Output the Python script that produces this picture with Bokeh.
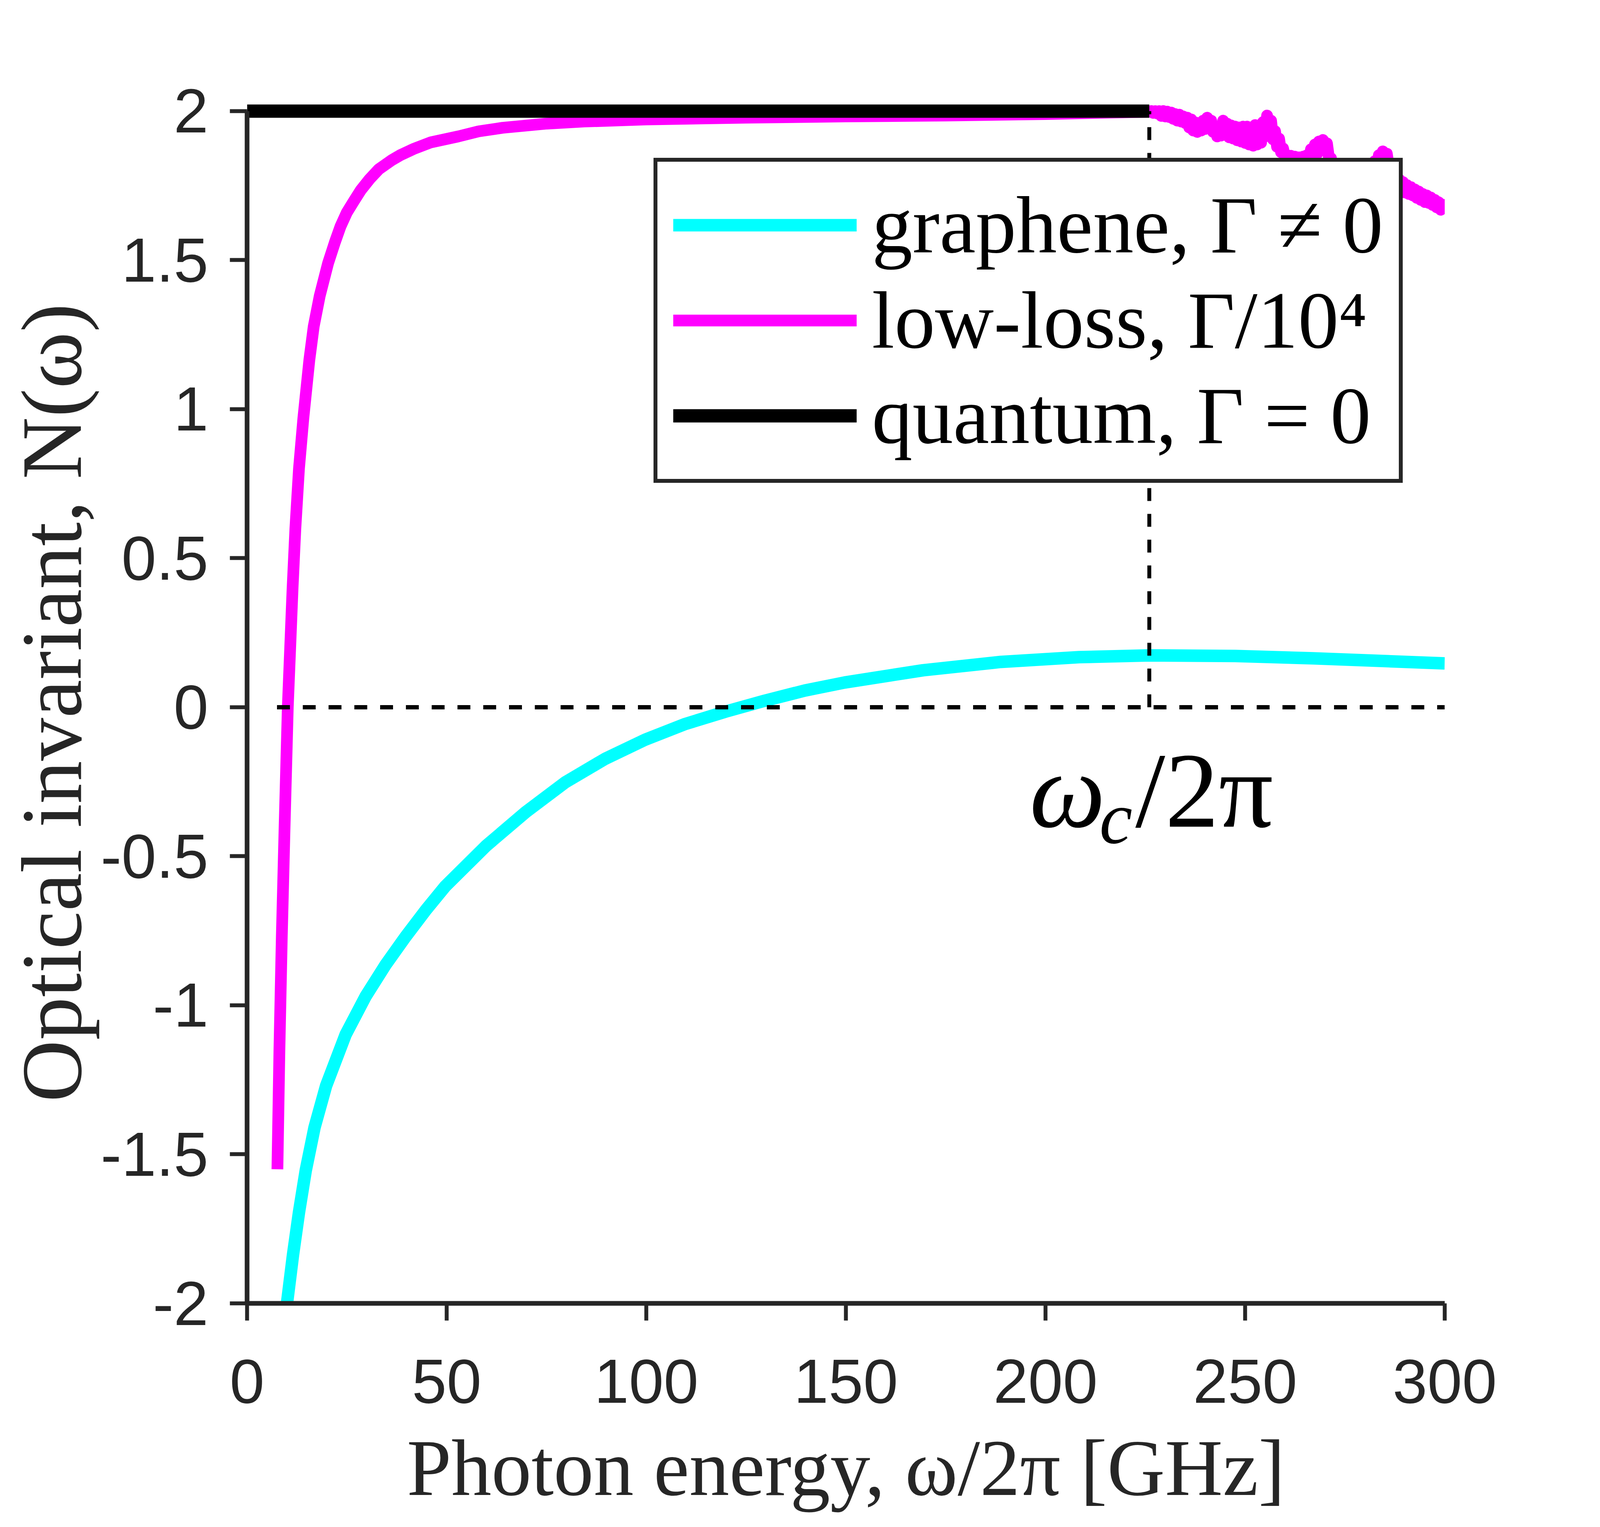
from bokeh.plotting import figure
from bokeh.models import Range1d, FixedTicker, CustomJSTickFormatter, Legend, LegendItem
from bokeh.core.properties import value
from bokeh.embed import file_html
from bokeh.resources import INLINE

# ---------------- data ----------------
graphene_x = [10.0, 11.5, 13.0, 14.7, 16.9, 19.8, 24.7, 29.7, 34.7, 39.7, 44.8, 49.7,
              59.8, 69.8, 79.7, 89.7, 99.7, 109.8, 119.8, 129.7, 139.7, 149.7, 169.3,
              188.8, 208.4, 226.0, 247.5, 267.0, 286.6, 300.0]
graphene_y = [-2.0, -1.838, -1.695, -1.554, -1.41, -1.27, -1.098, -0.97, -0.864,
              -0.77, -0.68, -0.60, -0.466, -0.352, -0.252, -0.173, -0.109, -0.056, -0.015,
              0.022, 0.056, 0.083, 0.124, 0.152, 0.168, 0.174, 0.172, 0.164, 0.154, 0.147]

lowloss_x = [7.6, 8.1, 8.7, 9.4, 10.2, 10.8, 11.4, 12.1, 13.0, 14.1, 15.6, 16.7, 18.2, 20.3,
             22.0, 23.4, 25.0, 26.7, 28.5, 30.7, 33.0, 36.2, 38.5, 41.7, 46.0, 52.9, 58.0,
             64.0, 75.1, 84.4, 100, 125, 150, 175, 200, 226,
             226.5, 227.0, 227.5, 228.0, 228.5, 229.0, 229.5, 230.0, 230.5, 231.0, 231.5,
             232.0, 232.5, 233.0, 233.5, 234.0, 234.5, 235.0, 235.5, 236.0, 236.5, 237.0,
             237.5, 238.0, 238.5, 239.0, 239.5, 240.0, 240.5, 241.0, 241.5, 242.0, 242.5,
             243.0, 243.5, 244.0, 244.5, 245.0, 245.5, 246.0, 246.5, 247.0, 247.5, 248.0,
             248.5, 249.0, 249.5, 250.0, 250.5, 251.0, 251.5, 252.0, 252.5, 253.0, 253.5,
             254.0, 254.5, 255.0, 255.5, 256.0, 256.5, 257.0, 257.5, 258.0, 258.5, 259.0,
             259.5, 260.0, 260.5, 261.0, 261.5, 262.0, 262.5, 263.0, 263.5, 264.0, 264.5,
             265.0, 265.5, 266.0, 266.5, 267.0, 267.5, 268.0, 268.5, 269.0, 269.5, 270.0,
             270.5, 271.0, 271.5, 272.0, 272.5, 273.0, 273.5, 274.0, 274.5, 275.0, 275.5,
             276.0, 276.5, 277.0, 277.5, 278.0, 278.5, 279.0, 279.5, 280.0, 280.5, 281.0,
             281.5, 282.0, 282.5, 283.0, 283.5, 284.0, 284.5, 285.0, 285.5, 286.0, 286.5,
             287.0, 287.5, 288.0, 288.5, 289.0, 289.5, 290.0, 290.5, 291.0, 291.5, 292.0,
             292.5, 293.0, 293.5, 294.0, 294.5, 295.0, 295.5, 296.0, 296.5, 297.0, 297.5,
             298.0, 298.5, 299.0, 299.5, 300.0]
lowloss_y = [-1.55, -1.15, -0.77, -0.40, 0.0, 0.20, 0.40, 0.60, 0.80, 0.97, 1.165, 1.278,
             1.38, 1.49, 1.56, 1.613, 1.66, 1.697, 1.735, 1.772, 1.805, 1.835, 1.853, 1.873,
             1.895, 1.915, 1.932, 1.944, 1.958, 1.965, 1.972, 1.978, 1.982, 1.985, 1.99, 1.998,
             2.0, 1.994, 2.0, 1.992, 2.0, 1.984, 2.0, 1.982, 1.998, 1.98, 1.995,
             1.974, 1.99, 1.968, 1.988, 1.965, 1.982, 1.96, 1.978, 1.945, 1.972, 1.935,
             1.962, 1.93, 1.958, 1.935, 1.968, 1.94, 1.978, 1.945, 1.968, 1.93, 1.948,
             1.915, 1.943, 1.918, 1.968, 1.922, 1.958, 1.912, 1.952, 1.908, 1.948, 1.902,
             1.945, 1.898, 1.948, 1.893, 1.948, 1.888, 1.943, 1.884, 1.953, 1.888, 1.948,
             1.894, 1.963, 1.915, 1.985, 1.925, 1.968, 1.905, 1.933, 1.88, 1.908, 1.862,
             1.875, 1.845, 1.852, 1.828, 1.85, 1.818, 1.847, 1.812, 1.845, 1.806, 1.847,
             1.812, 1.852, 1.828, 1.872, 1.846, 1.888, 1.856, 1.898, 1.872, 1.903, 1.866,
             1.892, 1.842, 1.842, 1.797, 1.812, 1.772, 1.792, 1.762, 1.787, 1.757, 1.787,
             1.762, 1.792, 1.767, 1.797, 1.767, 1.797, 1.772, 1.802, 1.777, 1.807, 1.782,
             1.817, 1.792, 1.832, 1.807, 1.852, 1.827, 1.865, 1.832, 1.857, 1.812, 1.822,
             1.782, 1.792, 1.757, 1.772, 1.737, 1.762, 1.727, 1.752, 1.722, 1.745, 1.717,
             1.737, 1.709, 1.73, 1.702, 1.722, 1.695, 1.717, 1.692, 1.71, 1.685, 1.702,
             1.677, 1.694, 1.669, 1.686, 1.667]

quantum_x = [0, 226]
quantum_y = [2, 2]

zero_line_x = [7.5, 300]
zero_line_y = [0, 0]
cutoff_x = [226, 226]
cutoff_y = [0, 2]

x_ticks = [0, 50, 100, 150, 200, 250, 300]
y_ticks = [-2, -1.5, -1, -0.5, 0, 0.5, 1, 1.5, 2]

legend_labels = ["graphene, Γ ≠ 0", "low-loss, Γ/10⁴", "quantum, Γ = 0"]

AX = "#262626"

p = figure(frame_width=3066, frame_height=3075, output_backend="svg", toolbar_location=None,
           x_range=Range1d(0, 300), y_range=Range1d(-2, 2.03),
           min_border_left=632, min_border_right=300, min_border_top=261,
           min_border_bottom=557)
p.outline_line_color = None
p.xgrid.grid_line_color = None
p.ygrid.grid_line_color = None
p.background_fill_color = "white"
p.border_fill_color = "white"

r_g = p.line(graphene_x, graphene_y, line_color="#00FFFF", line_width=32, line_join="round")
r_l = p.line(lowloss_x, lowloss_y, line_color="#FF00FF", line_width=30, line_join="round")
r_q = p.line(quantum_x, quantum_y, line_color="black", line_width=34)

p.line(zero_line_x, zero_line_y, line_color="black", line_width=11, line_dash="33 33")
p.line(cutoff_x, cutoff_y, line_color="black", line_width=10, line_dash="33 33")

# omega_c / 2 pi annotation
p.text(x=[196.0], y=[-0.279], text=["ω"], text_font=value("Liberation Serif"),
       text_font_style="italic", text_font_size="275px", text_baseline="middle",
       text_align="left", text_color="black")
p.text(x=[213.5], y=[-0.371], text=["c"], text_font=value("Liberation Serif"),
       text_font_style="italic", text_font_size="190px", text_baseline="middle",
       text_align="left", text_color="black")
p.text(x=[222.5], y=[-0.279], text=["/2π"], text_font=value("Liberation Serif"),
       text_font_size="275px", text_baseline="middle",
       text_align="left", text_color="black")

for ax in (p.xaxis[0], p.yaxis[0]):
    ax.axis_line_width = 12
    ax.axis_line_color = AX
    ax.major_tick_line_width = 10
    ax.major_tick_line_color = AX
    ax.major_tick_out = 44
    ax.major_tick_in = 0
    ax.minor_tick_line_color = None
    ax.major_label_text_font = "Liberation Sans"
    ax.major_label_text_font_size = "160px"
    ax.major_label_text_color = AX
    ax.axis_label_text_font = "Liberation Serif"
    ax.axis_label_text_font_style = "normal"
    ax.axis_label_text_color = AX
    ax.formatter = CustomJSTickFormatter(code="return String(tick);")

p.xaxis[0].ticker = FixedTicker(ticks=x_ticks)
p.yaxis[0].ticker = FixedTicker(ticks=y_ticks)
p.xaxis[0].bounds = (0, 300)
p.yaxis[0].bounds = (-2, 2)
p.xaxis[0].axis_label = "Photon energy, ω/2π [GHz]"
p.yaxis[0].axis_label = "Optical invariant, N(ω)"
p.xaxis[0].axis_label_text_font_size = "205px"
p.yaxis[0].axis_label_text_font_size = "220px"
p.xaxis[0].major_label_standoff = 100
p.yaxis[0].major_label_standoff = 55
p.xaxis[0].axis_label_standoff = 50
p.yaxis[0].axis_label_standoff = 0

legend = Legend(items=[LegendItem(label=legend_labels[0], renderers=[r_g]),
                       LegendItem(label=legend_labels[1], renderers=[r_l]),
                       LegendItem(label=legend_labels[2], renderers=[r_q])],
                location=(1041, 2100))
legend.label_text_font = "Liberation Serif"
legend.label_text_font_size = "208px"
legend.label_text_color = "black"
legend.glyph_width = 470
legend.glyph_height = 244
legend.label_height = 244
legend.label_standoff = 39
legend.spacing = 0
legend.padding = 40
legend.margin = 0
legend.border_line_color = AX
legend.border_line_width = 10
legend.border_line_alpha = 1.0
legend.background_fill_color = "white"
legend.background_fill_alpha = 1.0
p.add_layout(legend, "center")

open("out.html", "w").write(file_html(p, INLINE))
